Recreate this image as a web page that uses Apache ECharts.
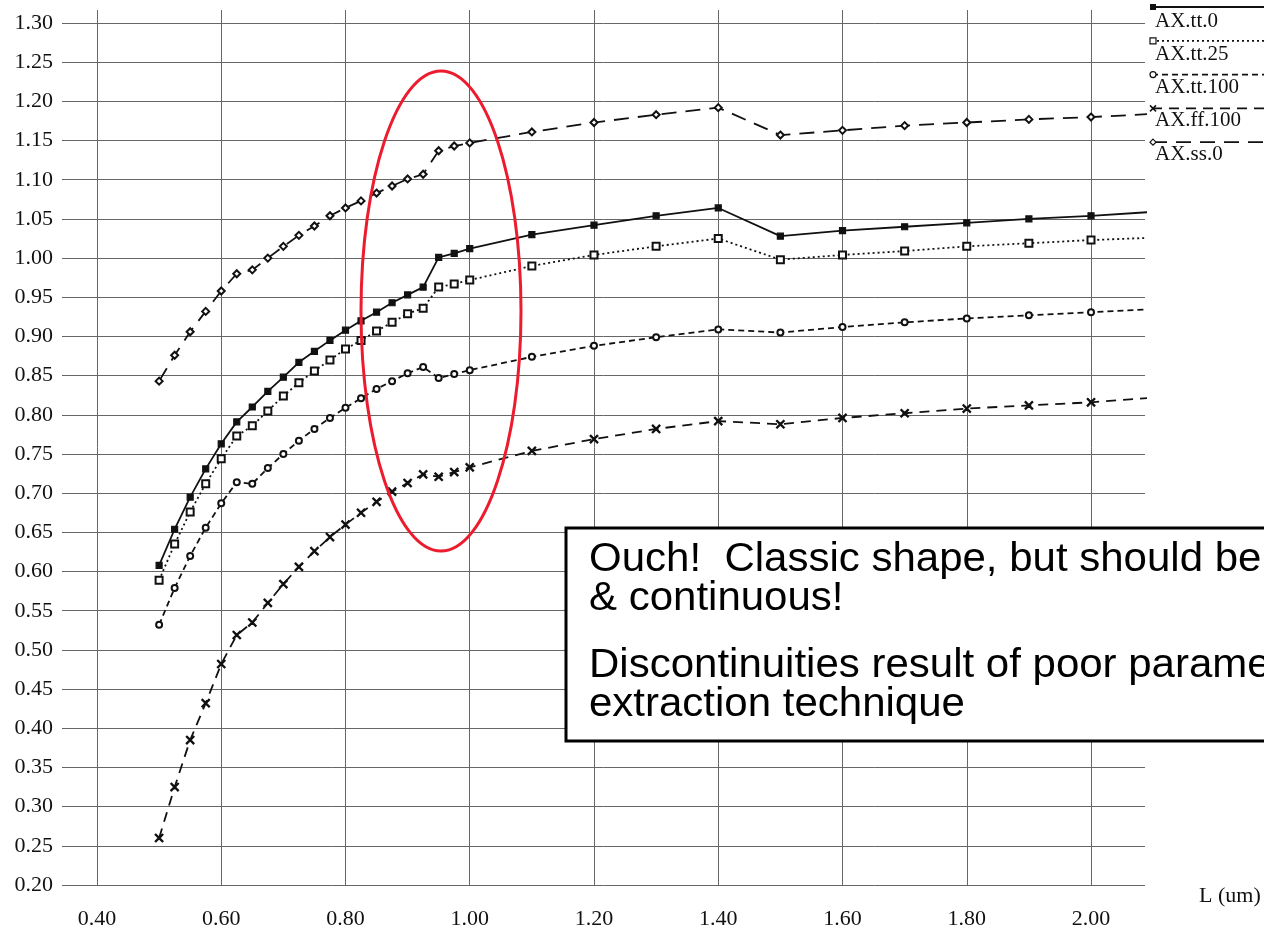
<!DOCTYPE html>
<html>
<head>
<meta charset="utf-8">
<script src="https://cdn.jsdelivr.net/npm/echarts@6/dist/echarts.min.js"></script>
<style>
html,body{margin:0;padding:0;background:#fff;}
#chart{width:1264px;height:930px;}
</style>
</head>
<body>
<div id="chart"></div>
<script>
// ---------- data ----------
const xValues = [0.500,0.525,0.550,0.575,0.600,0.625,0.650,0.675,0.700,0.725,0.750,0.775,0.800,0.825,0.850,0.875,0.900,0.925,0.950,0.975,1.000,
                 1.1,1.2,1.3,1.4,1.5,1.6,1.7,1.8,1.9,2.0,2.1];
const seriesNames = ['AX.tt.0','AX.tt.25','AX.tt.100','AX.ff.100','AX.ss.0'];
const ttZero = [0.608,0.654,0.695,0.731,0.763,0.791,0.810,0.830,0.848,0.867,0.881,0.895,0.908,0.920,0.931,0.943,0.953,0.963,1.001,1.006,1.012,
                1.030,1.042,1.054,1.064,1.028,1.035,1.040,1.045,1.050,1.054,1.059];
const ttTwentyFive = [0.589,0.635,0.676,0.712,0.744,0.773,0.786,0.805,0.824,0.841,0.856,0.870,0.884,0.895,0.907,0.918,0.929,0.936,0.963,0.967,0.972,
                0.990,1.004,1.015,1.025,0.998,1.004,1.009,1.015,1.019,1.023,1.026];
const ttHundred = [0.532,0.579,0.620,0.656,0.687,0.714,0.712,0.732,0.750,0.767,0.782,0.796,0.809,0.821,0.833,0.843,0.853,0.861,0.847,0.852,0.857,
                0.874,0.888,0.899,0.909,0.905,0.912,0.918,0.923,0.927,0.931,0.935];
const ffHundred = [0.260,0.325,0.385,0.432,0.482,0.519,0.535,0.560,0.584,0.606,0.626,0.644,0.660,0.675,0.689,0.702,0.713,0.724,0.721,0.727,0.733,
                0.754,0.769,0.782,0.792,0.788,0.796,0.802,0.808,0.812,0.816,0.822];
const ssZero = [0.843,0.876,0.906,0.932,0.958,0.980,0.985,1.000,1.015,1.029,1.041,1.054,1.064,1.073,1.083,1.092,1.101,1.107,1.137,1.143,1.147,
                1.161,1.173,1.183,1.192,1.157,1.163,1.169,1.173,1.177,1.180,1.184];
const xTickLabels = ['0.40','0.60','0.80','1.00','1.20','1.40','1.60','1.80','2.00'];
const yTickLabels = ['0.20','0.25','0.30','0.35','0.40','0.45','0.50','0.55','0.60','0.65','0.70','0.75','0.80','0.85','0.90','0.95',
                     '1.00','1.05','1.10','1.15','1.20','1.25','1.30'];
const xAxisTitle = 'L (um)';
const noteLines = ['Ouch!  Classic shape, but should be', '& continuous!', 'Discontinuities result of poor parameter', 'extraction technique'];

// ---------- styles ----------
const allValues = [ttZero, ttTwentyFive, ttHundred, ffHundred, ssZero];
const crossPath = 'path://M0,1L1,0L5,4L9,0L10,1L6,5L10,9L9,10L5,6L1,10L0,9L4,5Z';
const lineDash = ['solid', [2,3], [6,4], [10,7], [15,9]];
const symbols = ['rect', 'emptyRect', 'emptyCircle', crossPath, 'emptyDiamond'];
const symbolSizes = [6, 7, 6, 8, 7];
const INK = '#111';
const GRID = '#666';
const serif = '"Liberation Serif","Times New Roman",serif';

const series = seriesNames.map((name, i) => ({
  name: name,
  type: 'line',
  data: xValues.map((x, j) => [x, allValues[i][j]]),
  symbol: symbols[i],
  symbolSize: symbolSizes[i],
  showSymbol: true,
  clip: true,
  lineStyle: {color: INK, width: 1.8, type: lineDash[i]},
  itemStyle: {color: INK, borderColor: INK, borderWidth: 1.2},
  emphasis: {disabled: true},
  z: 3
}));

const xColors = ['rgba(0,0,0,0)'].concat(xTickLabels.map(() => GRID)).concat(['rgba(0,0,0,0)']);
const yColors = yTickLabels.map(() => GRID).concat(['rgba(0,0,0,0)']);

// legend built with graphic elements
const legendEls = [];
seriesNames.forEach((name, i) => {
  const ly = 7 + i * 33.8;
  const ty = 21 + i * 33.3;
  const dash = lineDash[i] === 'solid' ? null : lineDash[i];
  legendEls.push({type: 'line', shape: {x1: 1152, y1: ly, x2: 1264, y2: ly},
    style: {stroke: INK, lineWidth: 1.8, lineDash: dash}, z: 50});
  let mk;
  if (i === 0) mk = {type: 'rect', shape: {x: 1150, y: ly - 3, width: 6, height: 6}, style: {fill: INK}};
  else if (i === 1) mk = {type: 'rect', shape: {x: 1150, y: ly - 3, width: 6, height: 6}, style: {fill: '#fff', stroke: INK, lineWidth: 1.2}};
  else if (i === 2) mk = {type: 'circle', shape: {cx: 1153, cy: ly, r: 3}, style: {fill: '#fff', stroke: INK, lineWidth: 1.2}};
  else if (i === 3) mk = {type: 'polyline', shape: {points: [[1150, ly - 3], [1156, ly + 3]]}, style: {stroke: INK, lineWidth: 1.5}};
  else mk = {type: 'polygon', shape: {points: [[1153, ly - 3], [1156, ly], [1153, ly + 3], [1150, ly]]}, style: {fill: '#fff', stroke: INK, lineWidth: 1.2}};
  mk.z = 51;
  legendEls.push(mk);
  if (i === 3) legendEls.push({type: 'polyline', shape: {points: [[1150, ly + 3], [1156, ly - 3]]}, style: {stroke: INK, lineWidth: 1.5}, z: 51});
  legendEls.push({type: 'text', x: 1155, y: ty, z: 52,
    style: {text: name, fill: INK, font: '21px ' + serif, verticalAlign: 'middle', align: 'left'}});
});

// annotation
const noteY = [560, 599, 666, 705];
const noteEls = [
  {type: 'rect', shape: {x: 566, y: 528, width: 760, height: 213}, style: {fill: '#fff', stroke: '#000', lineWidth: 3}, z: 60},
  ...noteLines.map((t, i) => ({type: 'text', x: 589, y: noteY[i], scaleX: 1.05, z: 61,
    style: {text: t, fill: '#000', font: '40px "Liberation Sans",Arial,sans-serif', verticalAlign: 'middle', align: 'left'}})),
  {type: 'ellipse', shape: {cx: 441, cy: 311, rx: 80, ry: 240}, style: {fill: 'none', stroke: '#ec1c2e', lineWidth: 3}, z: 70}
];

const chart = echarts.init(document.getElementById('chart'), null, {renderer: 'canvas'});
chart.setOption({
  animation: false,
  backgroundColor: '#fff',
  grid: {left: 62, right: 119, top: 10, bottom: 45, containLabel: false},
  xAxis: {
    type: 'value', min: 0.3437, max: 2.0869, splitNumber: 9,
    axisLine: {show: false}, axisTick: {show: false},
    axisLabel: {
      color: INK, fontFamily: serif, fontSize: 22, margin: 23,
      formatter: v => { const s = v.toFixed(2); return xTickLabels.includes(s) ? s : ''; }
    },
    splitLine: {show: true, lineStyle: {color: xColors, width: 1}},
    name: xAxisTitle, nameLocation: 'end', nameGap: 54,
    nameTextStyle: {color: INK, fontFamily: serif, fontSize: 22, verticalAlign: 'top', align: 'left'}
  },
  yAxis: {
    type: 'value', min: 0.2, max: 1.3166, splitNumber: 22,
    axisLine: {show: false}, axisTick: {show: false},
    axisLabel: {
      color: INK, fontFamily: serif, fontSize: 22, margin: 9,
      formatter: v => { const s = v.toFixed(2); return yTickLabels.includes(s) ? s : ''; }
    },
    splitLine: {show: true, lineStyle: {color: yColors, width: 1}}
  },
  series: series,
  graphic: {elements: legendEls.concat(noteEls)}
});
</script>
</body>
</html>
